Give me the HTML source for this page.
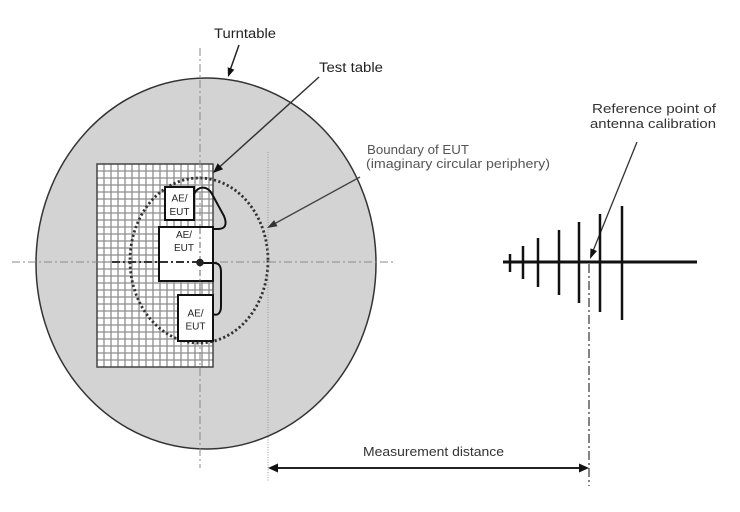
<!DOCTYPE html>
<html>
<head>
<meta charset="utf-8">
<style>
  html,body{margin:0;padding:0;background:#fff;}
  svg{display:block;}
  text{font-family:"Liberation Sans",Arial,sans-serif;}
</style>
</head>
<body>
<svg width="740" height="512" viewBox="0 0 740 512" xmlns="http://www.w3.org/2000/svg">
  <!-- Turntable -->
  <ellipse cx="206" cy="263.5" rx="170" ry="185.5" fill="#d3d3d3" stroke="#333" stroke-width="1.5"/>

  <!-- Test table -->
  <rect x="97" y="164" width="116" height="203" fill="#fff"/>
  <g stroke="#8e8e8e" stroke-width="1.3">
    <line x1="104" y1="164" x2="104" y2="367"/>
    <line x1="111" y1="164" x2="111" y2="367"/>
    <line x1="118" y1="164" x2="118" y2="367"/>
    <line x1="125" y1="164" x2="125" y2="367"/>
    <line x1="132" y1="164" x2="132" y2="367"/>
    <line x1="139" y1="164" x2="139" y2="367"/>
    <line x1="146" y1="164" x2="146" y2="367"/>
    <line x1="153" y1="164" x2="153" y2="367"/>
    <line x1="160" y1="164" x2="160" y2="367"/>
    <line x1="167" y1="164" x2="167" y2="367"/>
    <line x1="174" y1="164" x2="174" y2="367"/>
    <line x1="181" y1="164" x2="181" y2="367"/>
    <line x1="188" y1="164" x2="188" y2="367"/>
    <line x1="195" y1="164" x2="195" y2="367"/>
    <line x1="202" y1="164" x2="202" y2="367"/>
    <line x1="209" y1="164" x2="209" y2="367"/>
  </g>
  <g stroke="#8e8e8e" stroke-width="1.3">
    <line x1="97" y1="171" x2="213" y2="171"/>
    <line x1="97" y1="178" x2="213" y2="178"/>
    <line x1="97" y1="185" x2="213" y2="185"/>
    <line x1="97" y1="192" x2="213" y2="192"/>
    <line x1="97" y1="199" x2="213" y2="199"/>
    <line x1="97" y1="206" x2="213" y2="206"/>
    <line x1="97" y1="213" x2="213" y2="213"/>
    <line x1="97" y1="220" x2="213" y2="220"/>
    <line x1="97" y1="227" x2="213" y2="227"/>
    <line x1="97" y1="234" x2="213" y2="234"/>
    <line x1="97" y1="241" x2="213" y2="241"/>
    <line x1="97" y1="248" x2="213" y2="248"/>
    <line x1="97" y1="255" x2="213" y2="255"/>
    <line x1="97" y1="262" x2="213" y2="262"/>
    <line x1="97" y1="269" x2="213" y2="269"/>
    <line x1="97" y1="276" x2="213" y2="276"/>
    <line x1="97" y1="283" x2="213" y2="283"/>
    <line x1="97" y1="290" x2="213" y2="290"/>
    <line x1="97" y1="297" x2="213" y2="297"/>
    <line x1="97" y1="304" x2="213" y2="304"/>
    <line x1="97" y1="311" x2="213" y2="311"/>
    <line x1="97" y1="318" x2="213" y2="318"/>
    <line x1="97" y1="325" x2="213" y2="325"/>
    <line x1="97" y1="332" x2="213" y2="332"/>
    <line x1="97" y1="339" x2="213" y2="339"/>
    <line x1="97" y1="346" x2="213" y2="346"/>
    <line x1="97" y1="353" x2="213" y2="353"/>
    <line x1="97" y1="360" x2="213" y2="360"/>
  </g>
  <rect x="97" y="164" width="116" height="203" fill="none" stroke="#444" stroke-width="1.5"/>

  <!-- Boundary of EUT (dotted) -->
  <ellipse cx="199" cy="260.5" rx="69" ry="82.5" fill="none" stroke="#333" stroke-width="2.8" stroke-dasharray="2.2,2.4"/>

  <!-- Centre lines -->
  <line x1="12" y1="262" x2="395" y2="262" stroke="#888" stroke-width="1" stroke-dasharray="8,3,2,3"/>
  <line x1="200" y1="48" x2="200" y2="468" stroke="#888" stroke-width="1" stroke-dasharray="8,3,2,3"/>
  <line x1="268" y1="152" x2="268" y2="482" stroke="#999" stroke-width="1" stroke-dasharray="1,1.5"/>

  <!-- AE/EUT boxes -->
  <rect x="165" y="187" width="29" height="33" fill="#fff" stroke="#111" stroke-width="2"/>
  <rect x="159" y="227" width="54" height="54" fill="#fff" stroke="#111" stroke-width="2"/>
  <line x1="112" y1="262" x2="200" y2="262" stroke="#333" stroke-width="2" stroke-dasharray="8,3,2,3"/>
  <line x1="200" y1="228" x2="200" y2="295" stroke="#666" stroke-width="1" stroke-dasharray="6,3,2,3"/>
  <rect x="178" y="295" width="35" height="46" fill="#fff" stroke="#111" stroke-width="2"/>

  <g font-size="10" fill="#222" text-anchor="middle">
    <text x="179.5" y="201.5">AE/</text>
    <text x="179.5" y="215">EUT</text>
    <text x="184" y="238">AE/</text>
    <text x="184" y="251">EUT</text>
    <text x="195.5" y="316.5">AE/</text>
    <text x="195.5" y="329.5">EUT</text>
  </g>

  <!-- cables -->
  <path d="M194,194 C198,186 207,185 212,194 L224,216 C228,226 224,229 218,229 L213,229" fill="none" stroke="#111" stroke-width="2"/>
  <path d="M200,263 L214,263 C219,263 221,266 221,272 L221,306 C221,314 217,316 213,314" fill="none" stroke="#111" stroke-width="2"/>
  <circle cx="200" cy="262.5" r="3.8" fill="#222"/>

  <!-- Labels and arrows -->
  <text x="214" y="38" font-size="13.5" fill="#222" textLength="62" lengthAdjust="spacingAndGlyphs">Turntable</text>
  <line x1="239" y1="45" x2="230.5" y2="69" stroke="#222" stroke-width="1.5"/>
  <polygon points="228,77 234.3,69.7 227.7,67.3" fill="#111"/>

  <text x="319" y="72" font-size="13.5" fill="#222" textLength="64" lengthAdjust="spacingAndGlyphs">Test table</text>
  <line x1="319" y1="77" x2="219" y2="167.5" stroke="#333" stroke-width="1.5"/>
  <polygon points="213,173 223.1,169.3 217.7,163.3" fill="#111"/>

  <text x="367" y="154" font-size="12.5" fill="#555" textLength="102" lengthAdjust="spacingAndGlyphs">Boundary of EUT</text>
  <text x="366" y="168" font-size="12.5" fill="#555" textLength="184" lengthAdjust="spacingAndGlyphs">(imaginary circular periphery)</text>
  <line x1="360" y1="177" x2="275" y2="223.5" stroke="#444" stroke-width="1.3"/>
  <polygon points="267,228 277.5,226.3 274.1,220.1" fill="#333"/>

  <text x="592" y="113" font-size="13" fill="#333" textLength="124" lengthAdjust="spacingAndGlyphs">Reference point of</text>
  <text x="590" y="128" font-size="13" fill="#333" textLength="126" lengthAdjust="spacingAndGlyphs">antenna calibration</text>
  <line x1="637" y1="142" x2="593" y2="251" stroke="#333" stroke-width="1.3"/>
  <polygon points="590,259 597,251 590.5,248.4" fill="#111"/>

  <!-- Antenna -->
  <g stroke="#111" stroke-width="3">
    <line x1="503" y1="262" x2="697" y2="262"/>
  </g>
  <g stroke="#111" stroke-width="2.5">
    <line x1="510" y1="254" x2="510" y2="272"/>
    <line x1="523" y1="246" x2="523" y2="279"/>
    <line x1="538" y1="238" x2="538" y2="287"/>
    <line x1="559" y1="230" x2="559" y2="295"/>
    <line x1="579" y1="222" x2="579" y2="303"/>
    <line x1="600" y1="214" x2="600" y2="312"/>
    <line x1="622" y1="206" x2="622" y2="320"/>
  </g>
  <line x1="589" y1="264" x2="589" y2="486" stroke="#333" stroke-width="1.2" stroke-dasharray="9,3,2,3"/>

  <!-- Measurement distance -->
  <text x="363" y="456" font-size="13" fill="#333" textLength="141" lengthAdjust="spacingAndGlyphs">Measurement distance</text>
  <line x1="275" y1="468" x2="582" y2="468" stroke="#222" stroke-width="2"/>
  <polygon points="268,468 278,463.5 278,472.5" fill="#111"/>
  <polygon points="589,468 579,463.5 579,472.5" fill="#111"/>
</svg>
</body>
</html>
